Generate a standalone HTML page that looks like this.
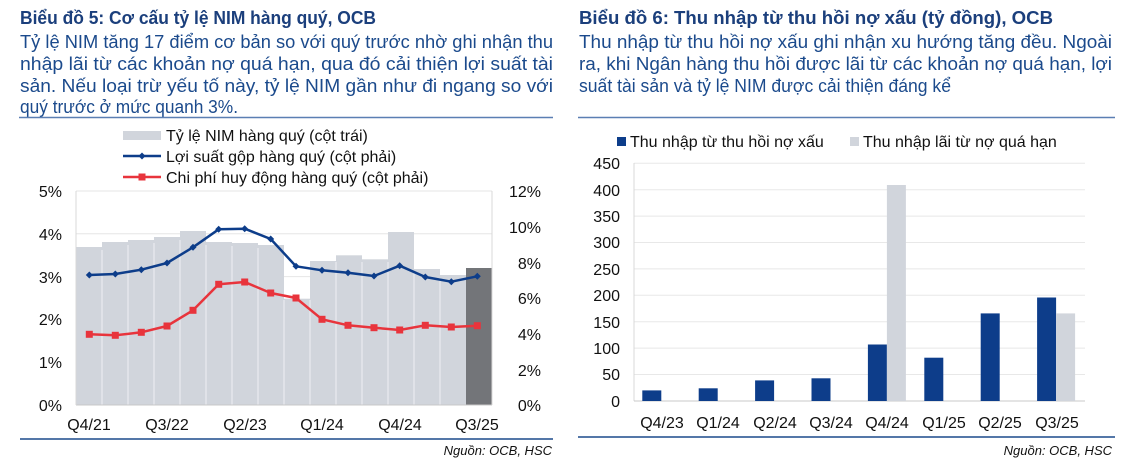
<!DOCTYPE html>
<html><head><meta charset="utf-8"><style>
html,body{margin:0;padding:0;background:#fff;}
svg{display:block;font-family:"Liberation Sans",Arial,sans-serif;}
</style></head><body>
<svg width="1128" height="462" viewBox="0 0 1128 462" xmlns="http://www.w3.org/2000/svg">
<!-- LEFT HEADER -->
<text x="20" y="24" font-size="18" font-weight="bold" fill="#1b3f7c" textLength="356" lengthAdjust="spacingAndGlyphs">Biểu đồ 5: Cơ cấu tỷ lệ NIM hàng quý, OCB</text>
<g font-size="18" fill="#1b4a8c">
<text x="20" y="48" textLength="533" lengthAdjust="spacingAndGlyphs">Tỷ lệ NIM tăng 17 điểm cơ bản so với quý trước nhờ ghi nhận thu</text>
<text x="20" y="70" textLength="533" lengthAdjust="spacingAndGlyphs">nhập lãi từ các khoản nợ quá hạn, qua đó cải thiện lợi suất tài</text>
<text x="20" y="92" textLength="533" lengthAdjust="spacingAndGlyphs">sản. Nếu loại trừ yếu tố này, tỷ lệ NIM gần như đi ngang so với</text>
<text x="20" y="113" textLength="218" lengthAdjust="spacingAndGlyphs">quý trước ở mức quanh 3%.</text>
</g>
<line x1="19" y1="117.5" x2="553" y2="117.5" stroke="#5b7fb3" stroke-width="1.5"/>
<!-- left legend -->
<rect x="123" y="131" width="38" height="9" fill="#d1d5dc"/>
<text x="166" y="141" font-size="16" fill="#111">Tỷ lệ NIM hàng quý (cột trái)</text>
<line x1="123" y1="156" x2="161" y2="156" stroke="#0d3d8a" stroke-width="2.5"/>
<path d="M142 152.5 L145.5 156 L142 159.5 L138.5 156Z" fill="#0d3d8a"/>
<text x="166" y="162" font-size="16" fill="#111">Lợi suất gộp hàng quý (cột phải)</text>
<line x1="123" y1="177" x2="161" y2="177" stroke="#e8343c" stroke-width="2.5"/>
<rect x="138.5" y="173.5" width="7" height="7" fill="#e8343c"/>
<text x="166" y="183" font-size="16" fill="#111">Chi phí huy động hàng quý (cột phải)</text>

<!-- left chart gridlines -->
<g stroke="#e6e6e6" stroke-width="1">
<line x1="76" y1="191" x2="492" y2="191"/><line x1="76" y1="233.8" x2="492" y2="233.8"/>
<line x1="76" y1="276.6" x2="492" y2="276.6"/><line x1="76" y1="319.4" x2="492" y2="319.4"/>
<line x1="76" y1="362.2" x2="492" y2="362.2"/>
</g>
<g fill="#d1d5dc">
<rect x="76" y="247" width="26" height="158"/>
<rect x="102" y="242" width="26" height="163"/>
<rect x="128" y="240" width="26" height="165"/>
<rect x="154" y="237" width="26" height="168"/>
<rect x="180" y="231" width="26" height="174"/>
<rect x="206" y="242" width="26" height="163"/>
<rect x="232" y="243" width="26" height="162"/>
<rect x="258" y="245" width="26" height="160"/>
<rect x="284" y="298.7" width="26" height="106.3"/>
<rect x="310" y="261" width="26" height="144"/>
<rect x="336" y="255.3" width="26" height="149.7"/>
<rect x="362" y="259.3" width="26" height="145.7"/>
<rect x="388" y="232" width="26" height="173"/>
<rect x="414" y="269" width="26" height="136"/>
<rect x="440" y="275" width="26" height="130"/>
</g>
<rect x="466" y="268" width="26" height="137" fill="#737579"/>
<g stroke="#eef0f3" stroke-width="1">
<line x1="102" y1="250" x2="102" y2="405"/><line x1="128" y1="245" x2="128" y2="405"/><line x1="154" y1="243" x2="154" y2="405"/><line x1="180" y1="240" x2="180" y2="405"/><line x1="206" y1="245" x2="206" y2="405"/><line x1="232" y1="246" x2="232" y2="405"/><line x1="258" y1="248" x2="258" y2="405"/><line x1="284" y1="300" x2="284" y2="405"/><line x1="310" y1="300" x2="310" y2="405"/><line x1="336" y1="262" x2="336" y2="405"/><line x1="362" y1="262" x2="362" y2="405"/><line x1="388" y1="262" x2="388" y2="405"/><line x1="414" y1="272" x2="414" y2="405"/><line x1="440" y1="278" x2="440" y2="405"/>
</g>
<line x1="76" y1="405" x2="492" y2="405" stroke="#c8c8c8"/>
<line x1="76" y1="191" x2="76" y2="405" stroke="#d8d8d8"/>
<line x1="492" y1="191" x2="492" y2="405" stroke="#d8d8d8"/>
<!-- lines -->
<polyline fill="none" stroke="#0d3d8a" stroke-width="2.5" stroke-linejoin="round" points="89.3,275 115.3,274 141.3,269.7 167,263 193,247.3 218.7,229.3 244.7,228.7 270.7,239 296,266.3 322,270.3 348,272.7 374,276 399.7,265.7 425.3,277 451.3,281.7 477.3,276.3"/>
<g fill="#0d3d8a">
<path d="M89.3 271.5l3.5 3.5-3.5 3.5-3.5-3.5z"/><path d="M115.3 270.5l3.5 3.5-3.5 3.5-3.5-3.5z"/><path d="M141.3 266.2l3.5 3.5-3.5 3.5-3.5-3.5z"/><path d="M167 259.5l3.5 3.5-3.5 3.5-3.5-3.5z"/><path d="M193 243.8l3.5 3.5-3.5 3.5-3.5-3.5z"/><path d="M218.7 225.8l3.5 3.5-3.5 3.5-3.5-3.5z"/><path d="M244.7 225.2l3.5 3.5-3.5 3.5-3.5-3.5z"/><path d="M270.7 235.5l3.5 3.5-3.5 3.5-3.5-3.5z"/><path d="M296 262.8l3.5 3.5-3.5 3.5-3.5-3.5z"/><path d="M322 266.8l3.5 3.5-3.5 3.5-3.5-3.5z"/><path d="M348 269.2l3.5 3.5-3.5 3.5-3.5-3.5z"/><path d="M374 272.5l3.5 3.5-3.5 3.5-3.5-3.5z"/><path d="M399.7 262.2l3.5 3.5-3.5 3.5-3.5-3.5z"/><path d="M425.3 273.5l3.5 3.5-3.5 3.5-3.5-3.5z"/><path d="M451.3 278.2l3.5 3.5-3.5 3.5-3.5-3.5z"/><path d="M477.3 272.8l3.5 3.5-3.5 3.5-3.5-3.5z"/>
</g>
<polyline fill="none" stroke="#e8343c" stroke-width="2.5" stroke-linejoin="round" points="89.3,334.3 115.3,335.3 141.3,332.3 167,326 193,310.3 218.7,284.3 244.7,282 270.7,293 296,298 322,319.3 348,325.3 374,327.7 399.7,330 425.3,325.3 451.3,327 477.3,325.7"/>
<g fill="#e8343c">
<rect x="85.8" y="330.8" width="7" height="7"/><rect x="111.8" y="331.8" width="7" height="7"/><rect x="137.8" y="328.8" width="7" height="7"/><rect x="163.5" y="322.5" width="7" height="7"/><rect x="189.5" y="306.8" width="7" height="7"/><rect x="215.2" y="280.8" width="7" height="7"/><rect x="241.2" y="278.5" width="7" height="7"/><rect x="267.2" y="289.5" width="7" height="7"/><rect x="292.5" y="294.5" width="7" height="7"/><rect x="318.5" y="315.8" width="7" height="7"/><rect x="344.5" y="321.8" width="7" height="7"/><rect x="370.5" y="324.2" width="7" height="7"/><rect x="396.2" y="326.5" width="7" height="7"/><rect x="421.8" y="321.8" width="7" height="7"/><rect x="447.8" y="323.5" width="7" height="7"/><rect x="473.8" y="322.2" width="7" height="7"/>
</g>
<!-- left axis labels -->
<g font-size="16" fill="#111" text-anchor="end">
<text x="62" y="197">5%</text><text x="62" y="240">4%</text><text x="62" y="283">3%</text><text x="62" y="325">2%</text><text x="62" y="368">1%</text><text x="62" y="411">0%</text>
</g>
<g font-size="16" fill="#111" text-anchor="end">
<text x="541" y="197">12%</text><text x="541" y="233">10%</text><text x="541" y="269">8%</text><text x="541" y="304">6%</text><text x="541" y="340">4%</text><text x="541" y="376">2%</text><text x="541" y="411">0%</text>
</g>
<g font-size="16" fill="#111" text-anchor="middle">
<text x="89" y="430">Q4/21</text><text x="167" y="430">Q3/22</text><text x="245" y="430">Q2/23</text><text x="322" y="430">Q1/24</text><text x="400" y="430">Q4/24</text><text x="477" y="430">Q3/25</text>
</g>
<line x1="20" y1="439" x2="553" y2="439" stroke="#1b4a8c" stroke-width="1.5"/>
<text x="552" y="455" font-size="13" font-style="italic" fill="#111" text-anchor="end">Nguồn: OCB, HSC</text>

<!-- RIGHT HEADER -->
<text x="579" y="24" font-size="18" font-weight="bold" fill="#1b3f7c" textLength="474" lengthAdjust="spacingAndGlyphs">Biểu đồ 6: Thu nhập từ thu hồi nợ xấu (tỷ đồng), OCB</text>
<g font-size="18" fill="#1b4a8c">
<text x="579" y="48" textLength="533" lengthAdjust="spacingAndGlyphs">Thu nhập từ thu hồi nợ xấu ghi nhận xu hướng tăng đều. Ngoài</text>
<text x="579" y="70" textLength="533" lengthAdjust="spacingAndGlyphs">ra, khi Ngân hàng thu hồi được lãi từ các khoản nợ quá hạn, lợi</text>
<text x="579" y="92" textLength="372" lengthAdjust="spacingAndGlyphs">suất tài sản và tỷ lệ NIM được cải thiện đáng kể</text>
</g>
<line x1="578" y1="117.5" x2="1115" y2="117.5" stroke="#5b7fb3" stroke-width="1.5"/>
<rect x="617" y="137" width="9" height="9" fill="#0d3d8a"/>
<text x="630" y="147" font-size="16" fill="#111">Thu nhập từ thu hồi nợ xấu</text>
<rect x="850" y="137" width="9" height="9" fill="#d1d5dc"/>
<text x="863" y="147" font-size="16" fill="#111">Thu nhập lãi từ nợ quá hạn</text>
<g stroke="#e8e8e8">
<line x1="634" y1="163.3" x2="1085" y2="163.3"/><line x1="634" y1="189.7" x2="1085" y2="189.7"/><line x1="634" y1="216.1" x2="1085" y2="216.1"/><line x1="634" y1="242.5" x2="1085" y2="242.5"/><line x1="634" y1="268.9" x2="1085" y2="268.9"/><line x1="634" y1="295.3" x2="1085" y2="295.3"/><line x1="634" y1="321.7" x2="1085" y2="321.7"/><line x1="634" y1="348.1" x2="1085" y2="348.1"/><line x1="634" y1="374.5" x2="1085" y2="374.5"/>
</g>
<line x1="634" y1="163" x2="634" y2="401" stroke="#d8d8d8"/>
<line x1="634" y1="401" x2="1085" y2="401" stroke="#c8c8c8"/>
<g fill="#0d3d8a">
<rect x="642.3" y="390.4" width="19" height="10.6"/>
<rect x="698.7" y="388.3" width="19" height="12.7"/>
<rect x="755.1" y="380.4" width="19" height="20.6"/>
<rect x="811.5" y="378.3" width="19" height="22.7"/>
<rect x="867.9" y="344.5" width="19" height="56.5"/>
<rect x="924.3" y="357.7" width="19" height="43.3"/>
<rect x="980.7" y="313.4" width="19" height="87.6"/>
<rect x="1037.1" y="297.5" width="19" height="103.5"/>
</g>
<g fill="#d1d5dc">
<rect x="886.9" y="185" width="19" height="216"/>
<rect x="1056.1" y="313.4" width="19" height="87.6"/>
</g>
<g font-size="16" fill="#111" text-anchor="end">
<text x="620" y="169">450</text><text x="620" y="196">400</text><text x="620" y="222">350</text><text x="620" y="248">300</text><text x="620" y="275">250</text><text x="620" y="301">200</text><text x="620" y="328">150</text><text x="620" y="354">100</text><text x="620" y="380">50</text><text x="620" y="407">0</text>
</g>
<g font-size="16" fill="#111" text-anchor="middle">
<text x="662" y="428">Q4/23</text><text x="718" y="428">Q1/24</text><text x="775" y="428">Q2/24</text><text x="831" y="428">Q3/24</text><text x="887" y="428">Q4/24</text><text x="944" y="428">Q1/25</text><text x="1000" y="428">Q2/25</text><text x="1057" y="428">Q3/25</text>
</g>
<line x1="578" y1="437" x2="1115" y2="437" stroke="#1b4a8c" stroke-width="1.5"/>
<text x="1112" y="455" font-size="13" font-style="italic" fill="#111" text-anchor="end">Nguồn: OCB, HSC</text>
</svg>
</body></html>
